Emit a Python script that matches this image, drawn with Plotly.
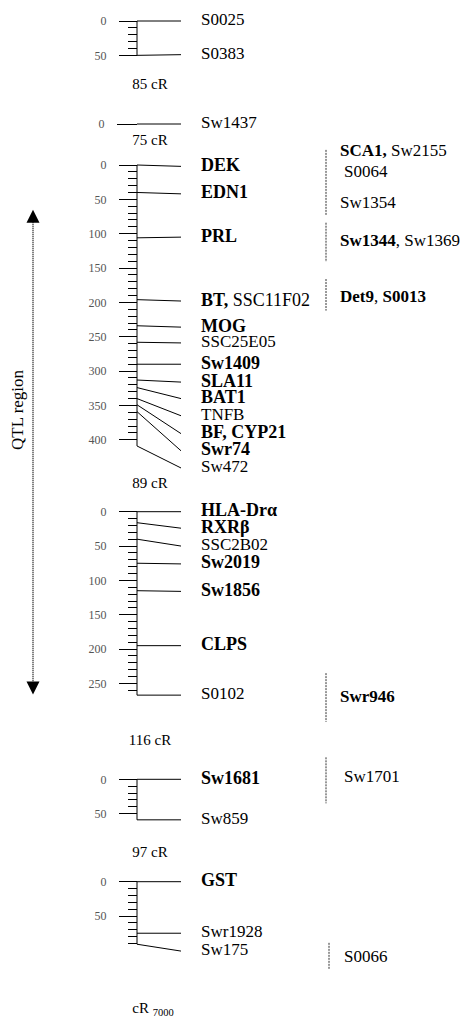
import plotly.graph_objects as go

# ---------------- data ----------------
# linkage groups (positions in cR, label positions in cR on the same axis)
g1_names = ["S0025", "S0383"]
g1_pos = [0, 50]
g1_lab = [0, 49]
g1_bold = [False, False]

g2_names = ["Sw1437"]
g2_pos = [0]
g2_lab = [0]
g2_bold = [False]

g3_names = ["DEK", "EDN1", "PRL", "BT,| SSC11F02", "MOG", "SSC25E05", "Sw1409",
            "SLA11", "BAT1", "TNFB", "BF, CYP21", "Swr74", "Sw472"]
g3_pos = [0, 40, 106, 196, 234, 258, 290, 313, 324, 340, 349, 359, 409]
g3_lab = [2, 42, 105, 198, 236, 259, 290, 316, 340, 365, 391, 416, 441]
g3_bold = [True, True, True, True, True, False, True, True, True, False, True, True, False]

g4_names = ["HLA-Drα", "RXRβ", "SSC2B02", "Sw2019", "Sw1856", "CLPS", "S0102"]
g4_pos = [0, 16, 40, 75, 115, 195, 267]
g4_lab = [0, 24, 50, 76, 116, 195, 267]
g4_bold = [True, True, False, True, True, True, False]

g5_names = ["Sw1681", "Sw859"]
g5_pos = [0, 59]
g5_lab = [0, 59]
g5_bold = [True, False]

g6_names = ["GST", "Swr1928", "Sw175"]
g6_pos = [0, 75, 91]
g6_lab = [0, 75, 101]
g6_bold = [True, False, False]

# distance between consecutive groups (label placed above the group it precedes)
gap_labels = ["85 cR", "75 cR", "89 cR", "116 cR", "97 cR"]
gap_group = [2, 3, 4, 5, 6]
gap_pos = [-57, -35, -40, -56, -42]

# comparative (linkage) map on the right: segments and labels per group
cmp_seg_group = [3, 3, 3, 4, 5, 6]
cmp_seg_start = [-22, 84, 166, 235, -32, 89]
cmp_seg_end = [73, 141, 212, 306, 35, 127]
cmp_seg_x = [326, 326, 326, 326, 326, 329]

cmp_lab_group = [3, 3, 3, 3, 3, 4, 5, 6]
cmp_lab_text = ["<b>SCA1,</b> Sw2155", "S0064", "Sw1354", "<b>Sw1344</b>, Sw1369",
                "<b>Det9</b>, <b>S0013</b>", "<b>Swr946</b>", "Sw1701", "S0066"]
cmp_lab_pos = [-19, 12, 56, 112, 193, 271, -2, 110]
cmp_lab_x = [340, 344, 340, 340, 340, 340, 344, 344]

# QTL region (group, cR)
qtl_top = (3, 65)
qtl_bottom = (4, 266)

# ---------------- layout constants ----------------
W, H = 469, 1019
OFF = 8          # page body margin of the html page
S = 0.687        # px per cR
BAR_X = 137
LINE_END_X = 181
LABEL_X = 201
groups = {
    1: dict(top=0, bottom=70, origin=21, names=g1_names, pos=g1_pos, lab=g1_lab, bold=g1_bold),
    2: dict(top=70, bottom=133, origin=124, names=g2_names, pos=g2_pos, lab=g2_lab, bold=g2_bold),
    3: dict(top=133, bottom=472, origin=165, names=g3_names, pos=g3_pos, lab=g3_lab, bold=g3_bold),
    4: dict(top=472, bottom=728, origin=511.7, names=g4_names, pos=g4_pos, lab=g4_lab, bold=g4_bold),
    5: dict(top=728, bottom=838, origin=779.3, names=g5_names, pos=g5_pos, lab=g5_lab, bold=g5_bold),
    6: dict(top=838, bottom=H + OFF, origin=881.7, names=g6_names, pos=g6_pos, lab=g6_lab, bold=g6_bold),
}

SERIF = "Liberation Serif, Times New Roman, serif"
fig = go.Figure()


def yref(k):
    return "y" if k == 1 else f"y{k}"


def fmt(name, bold):
    if "|" in name:
        a, b = name.split("|")
        return f"<b>{a}</b>{b}"
    return f"<b>{name}</b>" if bold else name


for k, g in groups.items():
    yr = yref(k)
    end = max(g["pos"])
    if end > 0:
        fig.add_trace(go.Scatter(x=[BAR_X, BAR_X], y=[0, end], mode="lines",
                                 line=dict(color="black", width=1), yaxis=yr,
                                 hoverinfo="skip", showlegend=False))
    xs, ys = [], []
    for p, l in zip(g["pos"], g["lab"]):
        xs += [BAR_X, LINE_END_X, None]
        ys += [p, l, None]
    fig.add_trace(go.Scatter(x=xs, y=ys, mode="lines", line=dict(color="black", width=1),
                             yaxis=yr, hoverinfo="skip", showlegend=False))
    for nm, l, b in zip(g["names"], g["lab"], g["bold"]):
        fig.add_trace(go.Scatter(x=[LABEL_X], y=[l], mode="text", text=[fmt(nm, b)],
                                 textposition="middle right", cliponaxis=False,
                                 textfont=dict(family=SERIF, size=18 if b else 17, color="black"),
                                 yaxis=yr, hoverinfo="skip", showlegend=False))

for t, k, p in zip(gap_labels, gap_group, gap_pos):
    fig.add_trace(go.Scatter(x=[150], y=[p], mode="text", text=[t], textposition="middle center",
                             cliponaxis=False, textfont=dict(family=SERIF, size=15, color="black"),
                             yaxis=yref(k), hoverinfo="skip", showlegend=False))

fig.add_trace(go.Scatter(x=[153], y=[185], mode="text",
                         text=["cR <sub>7000</sub>"], textposition="middle center",
                         cliponaxis=False, textfont=dict(family=SERIF, size=15, color="black"),
                         yaxis=yref(6), hoverinfo="skip", showlegend=False))

for k, a, b, x in zip(cmp_seg_group, cmp_seg_start, cmp_seg_end, cmp_seg_x):
    fig.add_trace(go.Scatter(x=[x, x], y=[a, b], mode="lines",
                             line=dict(color="#333", width=1, dash="2px,1px"),
                             yaxis=yref(k), hoverinfo="skip", showlegend=False))
for k, t, p, x in zip(cmp_lab_group, cmp_lab_text, cmp_lab_pos, cmp_lab_x):
    fig.add_trace(go.Scatter(x=[x], y=[p], mode="text", text=[t], textposition="middle right",
                             cliponaxis=False,
                             textfont=dict(family=SERIF, size=17, color="black"),
                             yaxis=yref(k), hoverinfo="skip", showlegend=False))


def page_px(gk, cr):
    return groups[gk]["origin"] + cr * S


ytop = page_px(*qtl_top)
ybot = page_px(*qtl_bottom)
fig.add_trace(go.Scatter(x=[33, 33], y=[ytop + 8, ybot - 8], mode="lines",
                         line=dict(color="#222", width=1.5, dash="1px,1px"),
                         yaxis="y7", hoverinfo="skip", showlegend=False))
fig.add_trace(go.Scatter(x=[33, 33], y=[ytop, ybot], mode="markers",
                         marker=dict(symbol=["arrow-up", "arrow-down"], size=13, color="black",
                                     line=dict(width=0)),
                         yaxis="y7", hoverinfo="skip", showlegend=False))
fig.add_annotation(x=17, y=410, xref="x", yref="y7", text="QTL region", textangle=-90,
                   showarrow=False, font=dict(family=SERIF, size=17, color="black"))

# ---------------- axes ----------------
layout = dict(
    width=W, height=H, margin=dict(l=0, r=0, t=0, b=0),
    paper_bgcolor="white", plot_bgcolor="rgba(0,0,0,0)",
    showlegend=False,
    xaxis=dict(range=[OFF, W + OFF], domain=[0, 1], visible=False, fixedrange=True),
)
for k, g in groups.items():
    end = max(g["pos"])
    top_f = 1 - (g["top"] - OFF) / H
    bot_f = 1 - (g["bottom"] - OFF) / H
    rng = [(g["bottom"] - g["origin"]) / S, (g["top"] - g["origin"]) / S]
    major = [v for v in range(0, int(end) + 1, 50)]
    minor = [v for v in range(10, int(end) + 1, 10) if v % 50 != 0]
    ax = dict(
        domain=[max(0, bot_f), min(1, top_f)],
        range=rng, anchor="free", position=(BAR_X - OFF) / W,
        showgrid=False, zeroline=False, showline=False,
        tickmode="array", tickvals=major, ticktext=[str(v) for v in major],
        ticks="outside", ticklen=18 if k != 2 else 20, tickwidth=1, tickcolor="black",
        ticklabelstandoff=10,
        tickfont=dict(family=SERIF, size=12, color="#555"),
        fixedrange=True,
    )
    if top_f > 1:
        ax["range"][1] = (OFF - g["origin"]) / S
    if bot_f < 0:
        ax["range"][0] = (H + OFF - g["origin"]) / S
    if minor:
        ax["minor"] = dict(tickmode="array", tickvals=minor, ticks="outside", ticklen=9,
                           tickwidth=1, tickcolor="black", showgrid=False)
    layout["yaxis" if k == 1 else f"yaxis{k}"] = ax
layout["yaxis7"] = dict(domain=[0, 1], range=[H + OFF, OFF], visible=False, anchor="free",
                        position=0, fixedrange=True)
fig.update_layout(**layout)

fig.write_html("out.html")
